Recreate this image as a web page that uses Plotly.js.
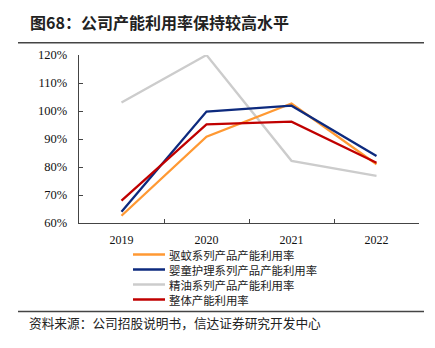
<!DOCTYPE html>
<html>
<head>
<meta charset="utf-8">
<script src="https://cdn.plot.ly/plotly-3.0.1.min.js"></script>
<style>html,body{margin:0;padding:0;background:#fff;}#chart{width:435px;height:348px;}</style>
</head>
<body>
<div id="chart"></div>
<script>
const years = ['2019', '2020', '2021', '2022'];
const seriesNames = ['驱蚊系列产品产能利用率', '婴童护理系列产品产能利用率', '精油系列产品产能利用率', '整体产能利用率'];
const mosquito = [62.6, 90.8, 102.7, 81.0];
const babyCare = [64.0, 99.8, 101.9, 83.9];
const essentialOil = [103.0, 120.0, 82.2, 76.8];
const overall = [68.0, 95.2, 96.2, 81.5];
const yTickVals = [60, 70, 80, 90, 100, 110, 120];
const yTickText = ['60%', '70%', '80%', '90%', '100%', '110%', '120%'];
const titleText = '图68：公司产能利用率保持较高水平';
const sourceText = '资料来源：公司招股说明书，信达证券研究开发中心';

const colors = ['#FF9933', '#0D2A7E', '#CCCCCC', '#C00000'];
const seriesValues = [mosquito, babyCare, essentialOil, overall];
const drawOrder = [2, 0, 1, 3];

const W = 435, H = 348;
const L = 79, R = 419, T = 55, B = 223;
const px = x => (x - L) / (R - L);
const py = y => (B - y) / (B - T);

const traces = drawOrder.map(i => ({
  x: years, y: seriesValues[i], type: 'scatter', mode: 'lines',
  name: seriesNames[i], line: {color: colors[i], width: 2.3}, showlegend: false
}));

const cjk = '"Noto Sans CJK SC", sans-serif';
const serif = '"Liberation Serif", "Times New Roman", serif';

const legendRows = [254.5, 269.5, 284.5, 299.5];
const shapes = [
  {type: 'line', xref: 'paper', yref: 'paper', x0: px(18), x1: px(424), y0: py(42.7), y1: py(42.7), line: {color: '#444', width: 1.5}},
  {type: 'line', xref: 'paper', yref: 'paper', x0: px(18), x1: px(424), y0: py(311.5), y1: py(311.5), line: {color: '#444', width: 1.5}}
];
const annotations = [
  {text: '<b>' + titleText + '</b>', xref: 'paper', yref: 'paper', x: px(29), y: py(22), xanchor: 'left', yanchor: 'middle', showarrow: false, borderpad: 0, font: {family: cjk, size: 16, color: '#222'}},
  {text: sourceText, xref: 'paper', yref: 'paper', x: px(28), y: py(322), xanchor: 'left', yanchor: 'middle', showarrow: false, borderpad: 0, font: {family: cjk, size: 12.7, color: '#222'}}
];
seriesNames.forEach((n, i) => {
  const yy = legendRows[i];
  shapes.push({type: 'line', xref: 'paper', yref: 'paper', x0: px(133), x1: px(165), y0: py(yy), y1: py(yy), line: {color: colors[i], width: 2.5}});
  annotations.push({text: n, xref: 'paper', yref: 'paper', x: px(168), y: py(yy), xanchor: 'left', yanchor: 'middle', showarrow: false, borderpad: 0, font: {family: cjk, size: 11.4, color: '#222'}});
});

const layout = {
  width: W, height: H,
  margin: {l: L, r: W - R, t: T, b: H - B, pad: 0},
  paper_bgcolor: '#fff', plot_bgcolor: '#fff',
  showlegend: false,
  xaxis: {
    type: 'category', range: [-0.5, 3.5], tickson: 'boundaries', ticks: 'inside', ticklen: 4,
    tickcolor: '#444', showline: true, linecolor: '#444', linewidth: 1.3, showgrid: false, zeroline: false,
    tickfont: {family: serif, size: 12, color: '#111'}, ticklabelstandoff: 5, fixedrange: true
  },
  yaxis: {
    range: [60, 120], tickvals: yTickVals, ticktext: yTickText, ticks: 'inside', ticklen: 4,
    tickcolor: '#444', showline: true, linecolor: '#444', linewidth: 1.3, showgrid: false, zeroline: false,
    tickfont: {family: serif, size: 12.5, color: '#111'}, ticklabelstandoff: 8, fixedrange: true
  },
  shapes: shapes, annotations: annotations
};

Plotly.newPlot('chart', traces, layout, {displayModeBar: false, staticPlot: true});
</script>
</body>
</html>
